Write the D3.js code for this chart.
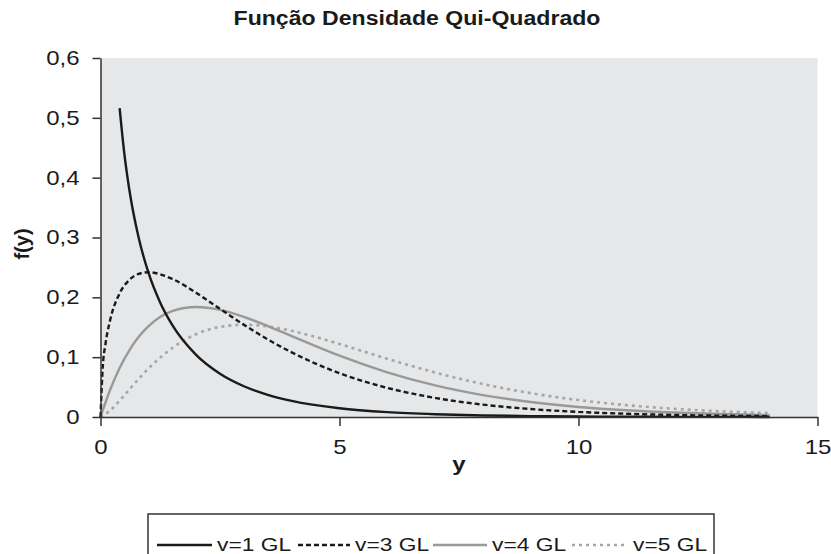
<!DOCTYPE html>
<html><head><meta charset="utf-8">
<script src="https://cdn.jsdelivr.net/npm/d3@7"></script>
<style>body{margin:0;background:#fff;} svg{display:block;font-family:"Liberation Sans",Arial,sans-serif;}</style>
</head><body>
<svg id="c" width="831" height="554"></svg>
<script>
const title = "Função Densidade Qui-Quadrado";
const xTicks = [0, 5, 10, 15];
const yTicks = [0, 0.1, 0.2, 0.3, 0.4, 0.5, 0.6];
const seriesNames = ["v=1 GL", "v=3 GL", "v=4 GL", "v=5 GL"];
const xV1 = [0.4,0.5,0.6,0.8,1,1.25,1.5,2,2.5,3,3.5,4,5,6,7,8,9,10,11,12,13,14];
const yV1 = [0.5164,0.4394,0.3815,0.2990,0.2420,0.1910,0.1539,0.1038,0.0723,0.0514,0.0371,0.0270,0.0146,0.0081,0.0046,0.0026,0.0015,0.00085,0.00049,0.00029,0.00017,0.0001];
const xV3 = [0,0.05,0.1,0.2,0.4,0.6,0.8,1,1.5,2,2.5,3,3.5,4,4.5,5,6,7,8,9,10,11,12,13,14];
const yV3 = [0,0.0870,0.1200,0.1614,0.2066,0.2289,0.2392,0.2420,0.2308,0.2076,0.1807,0.1542,0.1297,0.1080,0.0892,0.0732,0.0487,0.0319,0.0207,0.0133,0.0085,0.0054,0.0034,0.0022,0.0014];
const xV45 = [0,0.2,0.4,0.6,0.8,1,1.5,2,2.5,3,3.5,4,4.5,5,6,7,8,9,10,11,12,13,14];
const yV4 = [0,0.0452,0.0819,0.1111,0.1341,0.1516,0.1771,0.1839,0.1791,0.1673,0.1520,0.1353,0.1186,0.1026,0.0747,0.0528,0.0366,0.0250,0.0168,0.0112,0.0074,0.0049,0.0032];
const yV5 = [0,0.0108,0.0275,0.0458,0.0638,0.0807,0.1154,0.1384,0.1506,0.1542,0.1513,0.1440,0.1338,0.1220,0.0973,0.0744,0.0551,0.0399,0.0283,0.0198,0.0137,0.0094,0.0064];

const styles = [
  {color:"#1a1a1a", dash:null, width:2.4},
  {color:"#1a1a1a", dash:"5,3", width:2.4},
  {color:"#999999", dash:null, width:2.4},
  {color:"#a6a6a6", dash:"3,4", width:2.6}
];
const series = [
  xV1.map((x,i)=>[x,yV1[i]]),
  xV3.map((x,i)=>[x,yV3[i]]),
  xV45.map((x,i)=>[x,yV4[i]]),
  xV45.map((x,i)=>[x,yV5[i]])
];

const SX = 1.2; // horizontal stretch of the reference's lettering
const svg = d3.select("#c");
const L=100.5, R=817.5, T=58, B=417;
const x = d3.scaleLinear().domain([0,15]).range([L,R]);
const y = d3.scaleLinear().domain([0,0.6]).range([B,T]);

function stext(px, py, str, size, opts={}) {
  const g = svg.append("g").attr("transform", `translate(${px},${py})`);
  return g.append("text").attr("transform", `scale(${opts.sx||SX},1)`)
    .attr("text-anchor", opts.anchor||"start").attr("font-size", size)
    .attr("font-weight", opts.bold?"bold":"normal").attr("fill","#1a1a1a").text(str);
}

svg.append("rect").attr("x",L).attr("y",T).attr("width",R-L).attr("height",B-T).attr("fill","#e6e7e8");

stext(417, 25, title, 21, {anchor:"middle", bold:true, sx:1.1});

const line = d3.line().x(d=>x(d[0])).y(d=>y(d[1])).curve(d3.curveMonotoneX);
[3,2,1,0].forEach(i=>{
  svg.append("path").attr("d",line(series[i])).attr("fill","none")
    .attr("stroke",styles[i].color).attr("stroke-width",styles[i].width)
    .attr("stroke-dasharray",styles[i].dash);
});

const xAxis = d3.axisBottom(x).tickValues(xTicks).tickSize(9).tickSizeOuter(0).tickFormat(d3.format("d"));
const gx = svg.append("g").attr("transform",`translate(0,${B})`).call(xAxis);
gx.select(".domain").attr("stroke","#333").attr("stroke-width",1.5);
gx.selectAll(".tick line").attr("stroke","#333").attr("stroke-width",1.5);
gx.selectAll("text").attr("font-size",20).attr("fill","#1a1a1a").attr("y",37).attr("dy",null)
  .attr("transform",`scale(${SX},1)`).attr("font-family","Liberation Sans, Arial, sans-serif");

const yAxis = d3.axisLeft(y).tickValues(yTicks).tickSize(8).tickSizeOuter(0)
  .tickFormat(d=> d===0 ? "0" : d3.format(".1f")(d).replace(".",","));
const gy = svg.append("g").attr("transform",`translate(${L},0)`).call(yAxis);
gy.select(".domain").attr("stroke","#333").attr("stroke-width",1.5);
gy.selectAll(".tick line").attr("stroke","#333").attr("stroke-width",1.5);
gy.selectAll("text").attr("font-size",20).attr("fill","#1a1a1a").attr("x",-21/SX)
  .attr("transform",`scale(${SX},1)`).attr("font-family","Liberation Sans, Arial, sans-serif");

stext((L+R)/2, 471, "y", 20, {anchor:"middle", bold:true});
svg.append("text").attr("transform","translate(29,244) rotate(-90)").attr("text-anchor","middle")
  .attr("font-size",20).attr("font-weight","bold").attr("fill","#1a1a1a").text("f(y)");

// legend
svg.append("rect").attr("x",148).attr("y",514).attr("width",566).attr("height",60)
  .attr("fill","#fff").attr("stroke","#333").attr("stroke-width",1.5);
const legX = [157, 298, 433, 572];
const legW = [55, 52, 54, 56];
seriesNames.forEach((n,i)=>{
  svg.append("line").attr("x1",legX[i]).attr("x2",legX[i]+legW[i]).attr("y1",545).attr("y2",545)
    .attr("stroke",styles[i].color).attr("stroke-width",styles[i].width).attr("stroke-dasharray",styles[i].dash);
  stext(legX[i]+legW[i]+5, 551, n, 19);
});
</script>
</body></html>
